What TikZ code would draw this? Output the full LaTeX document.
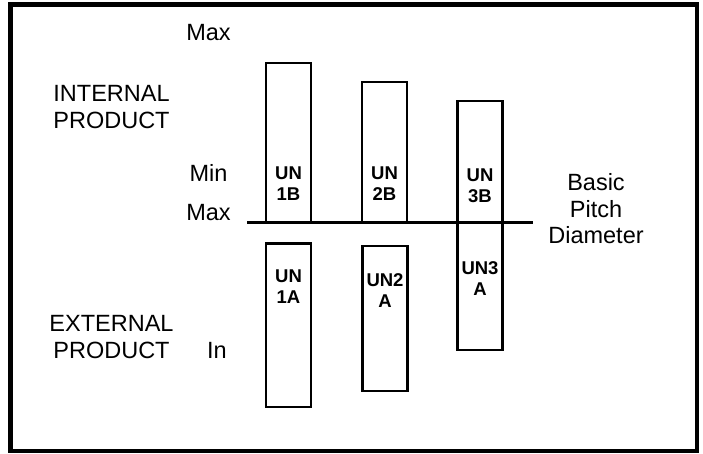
\documentclass[tikz,border=0pt]{standalone}
\usepackage{fontspec}
\setmainfont{Liberation Sans}
\begin{document}
\begin{tikzpicture}[x=1pt,y=-1pt,
  frame/.style={draw=black,line width=4.5pt},
  bar/.style={draw=black,line width=2.5pt,rectangle,inner sep=0pt,minimum width=45pt},
  pitchline/.style={draw=black,line width=3.5pt},
  lbl/.style={inner sep=0pt,align=center,font=\fontsize{23.5}{26.5}\selectfont},
  blbl/.style={inner sep=0pt,align=center,font=\bfseries\fontsize{18.5}{21}\selectfont}]
\useasboundingbox (0,0) rectangle (703,454);
\fill[white] (0,0) rectangle (703,454);
\draw[frame] (10.5,4.5) rectangle (697,451);
% bars
\node[bar,minimum height=159.5pt] (b1) at (288.5,142.75) {};
\node[bar,minimum height=140.5pt] (b2) at (384.5,152.25) {};
\node[bar,minimum height=249pt] (b3) at (480,225.5) {};
\node[bar,minimum height=163.5pt] (a1) at (288.5,325.25) {};
\node[bar,minimum height=145pt] (a2) at (385,318.5) {};
% basic pitch line
\coordinate (pl) at (247,222.5);
\coordinate (pr) at (533,222.5);
\draw[pitchline] (pl) -- (pr);
% bar labels
\node[blbl] (t1b) at (288.5,184) {UN\\1B};
\node[blbl] (t2b) at (384.5,184) {UN\\2B};
\node[blbl] (t3b) at (480,185.5) {UN\\3B};
\node[blbl] (t1a) at (288.5,287) {UN\\1A};
\node[blbl] (t2a) at (385,291) {UN2\\A};
\node[blbl] (t3a) at (480,279) {UN3\\A};
% side labels
\node[lbl] (maxtop) at (208.5,33) {Max};
\node[lbl] (intp) at (111.5,107) {INTERNAL\\PRODUCT};
\node[lbl] (min) at (208.5,172.5) {Min};
\node[lbl] (maxlow) at (208.5,212.5) {Max};
\node[lbl] (extp) at (111.5,337) {EXTERNAL\\PRODUCT};
\node[lbl] (in) at (217,350) {In};
\node[lbl] (bpd) at (596,209) {Basic\\Pitch\\Diameter};
\end{tikzpicture}
\end{document}
